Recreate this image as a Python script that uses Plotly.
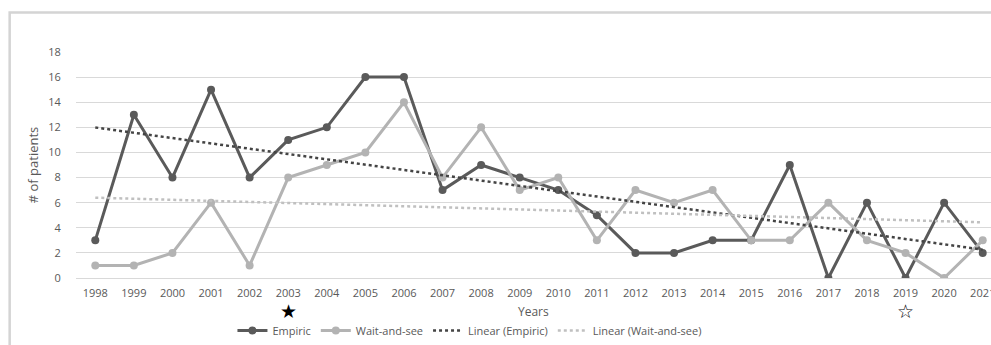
import numpy as np
import plotly.graph_objects as go

years = [str(y) for y in range(1998, 2022)]
empiric = [3, 13, 8, 15, 8, 11, 12, 16, 16, 7, 9, 8, 7, 5, 2, 2, 3, 3, 9, 0, 6, 0, 6, 2]
wait_and_see = [1, 1, 2, 6, 1, 8, 9, 10, 14, 8, 12, 7, 8, 3, 7, 6, 7, 3, 3, 6, 3, 2, 0, 3]
y_ticks = list(range(0, 19, 2))
star_years = {"2003": "★", "2019": "☆"}

# least-squares linear trends over the year index
idx = np.arange(len(years))
trend_emp = np.polyval(np.polyfit(idx, empiric, 1), idx)
trend_wait = np.polyval(np.polyfit(idx, wait_and_see, 1), idx)

DARK = "#5a5a5a"
LIGHT = "#b3b3b3"
FONT = "Open Sans"

fig = go.Figure()
fig.add_trace(go.Scatter(
    x=idx, y=empiric, name="Empiric", mode="lines+markers",
    line=dict(color=DARK, width=3), marker=dict(color=DARK, size=8)))
fig.add_trace(go.Scatter(
    x=idx, y=wait_and_see, name="Wait-and-see", mode="lines+markers",
    line=dict(color=LIGHT, width=3), marker=dict(color=LIGHT, size=8)))
fig.add_trace(go.Scatter(
    x=idx, y=trend_emp, name="Linear (Empiric)", mode="lines",
    line=dict(color="#444444", width=2.5, dash="dot")))
fig.add_trace(go.Scatter(
    x=idx, y=trend_wait, name="Linear (Wait-and-see)", mode="lines",
    line=dict(color="#c0c0c0", width=2.5, dash="dot")))

# star markers under two of the years
for yr, glyph in star_years.items():
    fig.add_annotation(x=years.index(yr), y=-0.145, xref="x", yref="paper", text=glyph,
                       showarrow=False, yanchor="middle",
                       font=dict(family="DejaVu Sans", size=19, color="#000000"))

# x-axis title
fig.add_annotation(x=0.5, y=-0.15, xref="paper", yref="paper", text="Years",
                   showarrow=False, yanchor="middle",
                   font=dict(family=FONT, size=12, color="#595959"))

# outer chart frame
fig.add_shape(type="rect", xref="paper", yref="paper",
              x0=-0.0725, x1=1.05, y0=-0.4, y1=1.175,
              line=dict(color="#d4d4d4", width=2.5), fillcolor="rgba(0,0,0,0)",
              layer="below")

fig.update_layout(
    width=991, height=345,
    margin=dict(l=76, r=0, t=52, b=67),
    paper_bgcolor="white", plot_bgcolor="white",
    font=dict(family=FONT, color="#595959", size=11),
    showlegend=True,
    legend=dict(orientation="h", x=0.43, xanchor="center", y=-0.235, yanchor="middle",
                font=dict(size=11, color="#595959"), itemwidth=30,
                tracegroupgap=0, bgcolor="rgba(0,0,0,0)"),
    xaxis=dict(range=[-0.5, 23.215], automargin=False,
               tickvals=idx, ticktext=years, ticklabeloverflow="allow",
               showgrid=False, showline=True, linecolor="#d9d9d9", linewidth=1,
               zeroline=False,
               ticks="outside", ticklen=5, tickcolor="rgba(0,0,0,0)",
               tickfont=dict(size=11, color="#595959")),
    yaxis=dict(range=[0, 18], tickvals=y_ticks, showgrid=True, gridcolor="#d9d9d9",
               gridwidth=1, zeroline=False, automargin=False,
               ticks="outside", ticklen=12, tickcolor="rgba(0,0,0,0)",
               tickfont=dict(size=11, color="#595959"),
               title=dict(text="# of patients", font=dict(size=13, color="#595959"), standoff=6)),
)

fig.write_html("out.html")
